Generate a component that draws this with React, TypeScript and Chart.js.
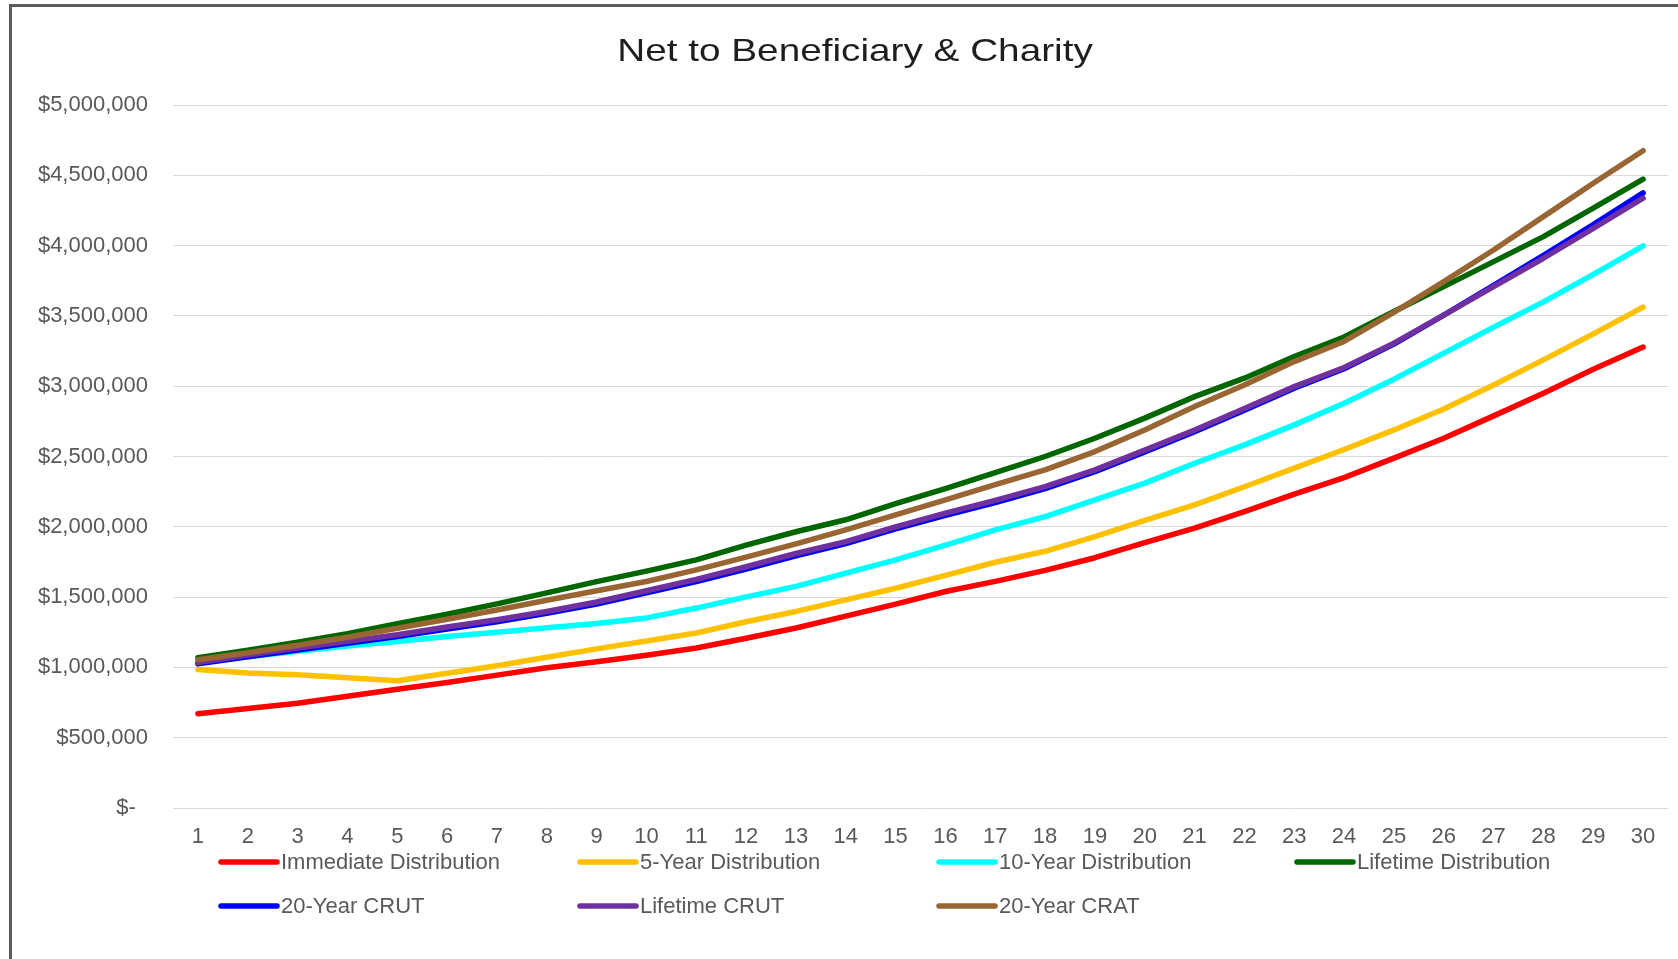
import { useEffect, useRef } from "react";
import { Chart, registerables } from "chart.js";

Chart.register(...registerables);

const TITLE = "Net to Beneficiary & Charity";

const years = [
  "1", "2", "3", "4", "5", "6", "7", "8", "9", "10",
  "11", "12", "13", "14", "15", "16", "17", "18", "19", "20",
  "21", "22", "23", "24", "25", "26", "27", "28", "29", "30",
];

const immediateDistribution = [
  670000, 708000, 745000, 795000, 845000, 893000, 945000, 998000, 1040000, 1087000,
  1138000, 1207000, 1280000, 1365000, 1450000, 1540000, 1612000, 1690000, 1780000, 1888000,
  1990000, 2108000, 2232000, 2350000, 2488000, 2630000, 2789000, 2950000, 3120000, 3278000,
];

const fiveYearDistribution = [
  985000, 960000, 947000, 927000, 905000, 958000, 1012000, 1072000, 1132000, 1188000,
  1245000, 1325000, 1398000, 1480000, 1563000, 1655000, 1748000, 1826000, 1930000, 2045000,
  2156000, 2285000, 2417000, 2550000, 2689000, 2838000, 3008000, 3187000, 3372000, 3562000,
];

const tenYearDistribution = [
  1030000, 1075000, 1115000, 1152000, 1185000, 1220000, 1250000, 1282000, 1313000, 1352000,
  1422000, 1502000, 1576000, 1670000, 1765000, 1870000, 1978000, 2073000, 2192000, 2311000,
  2452000, 2583000, 2725000, 2879000, 3050000, 3235000, 3420000, 3600000, 3795000, 3998000,
];

const lifetimeDistribution = [
  1068000, 1122000, 1180000, 1240000, 1310000, 1378000, 1452000, 1530000, 1610000, 1685000,
  1765000, 1870000, 1965000, 2050000, 2165000, 2272000, 2385000, 2500000, 2630000, 2773000,
  2926000, 3057000, 3211000, 3350000, 3531000, 3708000, 3886000, 4064000, 4266000, 4472000,
];

const twentyYearCrut = [
  1025000, 1076000, 1124000, 1172000, 1219000, 1273000, 1325000, 1384000, 1450000, 1530000,
  1611000, 1700000, 1793000, 1880000, 1985000, 2082000, 2173000, 2272000, 2392000, 2533000,
  2677000, 2830000, 2986000, 3124000, 3300000, 3506000, 3718000, 3930000, 4150000, 4375000,
];

const lifetimeCrut = [
  1035000, 1088000, 1137000, 1185000, 1232000, 1287000, 1339000, 1398000, 1465000, 1545000,
  1626000, 1716000, 1810000, 1895000, 2000000, 2097000, 2188000, 2286000, 2405000, 2545000,
  2689000, 2842000, 2997000, 3133000, 3306000, 3505000, 3708000, 3910000, 4123000, 4337000,
];

const twentyYearCrat = [
  1055000, 1104000, 1158000, 1214000, 1278000, 1342000, 1408000, 1478000, 1545000, 1611000,
  1694000, 1784000, 1879000, 1978000, 2085000, 2192000, 2300000, 2405000, 2535000, 2689000,
  2855000, 3009000, 3175000, 3318000, 3525000, 3744000, 3969000, 4206000, 4443000, 4675000,
];

const seriesNames = [
  "Immediate Distribution",
  "5-Year Distribution",
  "10-Year Distribution",
  "Lifetime Distribution",
  "20-Year CRUT",
  "Lifetime CRUT",
  "20-Year CRAT",
];

const seriesColors = [
  "#FF0000",
  "#FFC000",
  "#00FFFF",
  "#006600",
  "#0000FF",
  "#7030A0",
  "#996633",
];

const seriesValues = [
  immediateDistribution,
  fiveYearDistribution,
  tenYearDistribution,
  lifetimeDistribution,
  twentyYearCrut,
  lifetimeCrut,
  twentyYearCrat,
];

const FONT = '"Liberation Sans", Arial, sans-serif';
const WIDTH = 1678;
const HEIGHT = 959;

function formatDollars(v: number): string {
  if (v === 0) return "$-  ";
  return "$" + Math.round(v).toLocaleString("en-US");
}

// Title and a fixed-column legend drawn under the axis
const chartChrome = {
  id: "chartChrome",
  afterDraw(chart: any) {
    const ctx = chart.ctx as CanvasRenderingContext2D;
    ctx.save();
    ctx.translate(855, 61);
    ctx.scale(1.21, 1);
    ctx.font = `32px ${FONT}`;
    ctx.fillStyle = "#1e1e1e";
    ctx.textAlign = "center";
    ctx.textBaseline = "alphabetic";
    ctx.fillText(TITLE, 0, 0);
    ctx.restore();

    ctx.save();
    const colX = [219, 578, 937, 1295];
    const rowY = [862, 906];
    ctx.font = `22px ${FONT}`;
    ctx.textAlign = "left";
    ctx.textBaseline = "middle";
    ctx.lineCap = "round";
    ctx.lineWidth = 5.5;
    seriesNames.forEach((name, i) => {
      const x = colX[i % 4];
      const y = rowY[Math.floor(i / 4)];
      ctx.strokeStyle = seriesColors[i];
      ctx.beginPath();
      ctx.moveTo(x + 2, y);
      ctx.lineTo(x + 58, y);
      ctx.stroke();
      ctx.fillStyle = "#595959";
      ctx.fillText(name, x + 62, y + 1);
    });
    ctx.restore();
  },
};

export default function App() {
  const canvasRef = useRef<HTMLCanvasElement | null>(null);

  useEffect(() => {
    const canvas = canvasRef.current;
    if (!canvas) return;
    const chart = new Chart(canvas, {
      type: "line",
      data: {
        labels: years,
        datasets: seriesNames.map((name, i) => ({
          label: name,
          data: seriesValues[i],
          borderColor: seriesColors[i],
          backgroundColor: seriesColors[i],
          borderWidth: 5.5,
          borderCapStyle: "round",
          borderJoinStyle: "round",
          pointRadius: 0,
          tension: 0,
          fill: false,
          order: seriesNames.length - i,
        })),
      },
      options: {
        animation: false,
        responsive: false,
        devicePixelRatio: 1,
        layout: { padding: { top: 105, right: 10, left: 0, bottom: 0 } },
        plugins: {
          legend: { display: false },
          title: { display: false },
          tooltip: { enabled: false },
        },
        scales: {
          x: {
            offset: true,
            grid: { display: false, drawTicks: false },
            border: { display: false },
            ticks: {
              color: "#595959",
              padding: 16,
              maxRotation: 0,
              autoSkip: false,
              font: { family: FONT, size: 22 },
            },
            afterFit: (scale: any) => {
              scale.height = 151;
            },
          },
          y: {
            min: 0,
            max: 5000000,
            grid: { color: "#d9d9d9", lineWidth: 1, drawTicks: false },
            border: { display: false },
            ticks: {
              stepSize: 500000,
              color: "#595959",
              padding: 25,
              font: { family: FONT, size: 22 },
              callback: (v: any) => formatDollars(Number(v)),
            },
            afterFit: (scale: any) => {
              scale.width = 173;
            },
          },
        },
      },
      plugins: [chartChrome],
    });
    return () => chart.destroy();
  }, []);

  return (
    <div
      style={{
        position: "absolute",
        left: 0,
        top: 0,
        width: WIDTH,
        height: HEIGHT,
        background: "#ffffff",
        overflow: "hidden",
      }}
    >
      <canvas
        ref={canvasRef}
        width={WIDTH}
        height={HEIGHT}
        style={{ position: "absolute", left: 0, top: 0, width: WIDTH, height: HEIGHT }}
      />
      <div style={{ position: "absolute", left: 9, top: 4, width: 3, height: HEIGHT, background: "#5c5c5c" }} />
      <div style={{ position: "absolute", left: 9, top: 4, width: WIDTH, height: 3, background: "#5c5c5c" }} />
    </div>
  );
}
